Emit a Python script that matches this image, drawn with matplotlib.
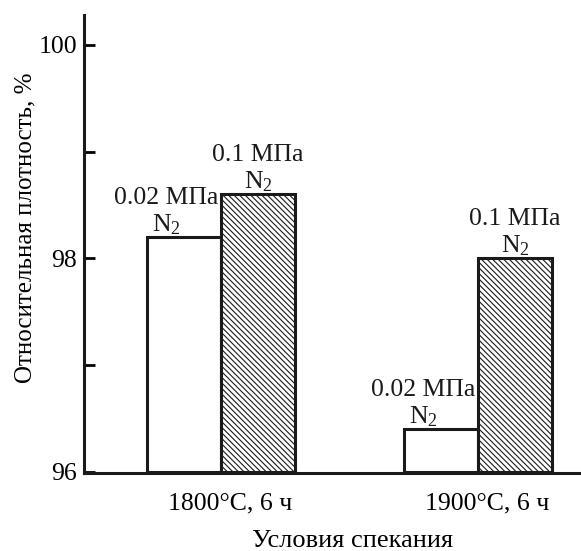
import matplotlib
matplotlib.use("Agg")
import matplotlib.pyplot as plt
from matplotlib.ticker import MultipleLocator

plt.rcParams["font.family"] = ["Liberation Serif", "DejaVu Serif"]
plt.rcParams["mathtext.fontset"] = "custom"
plt.rcParams["mathtext.rm"] = "Liberation Serif"
plt.rcParams["mathtext.default"] = "regular"
plt.rcParams["hatch.linewidth"] = 0.8

# data
conditions = ["1800°C, 6 ч", "1900°C, 6 ч"]
density_002 = [98.2, 96.4]   # 0.02 МПа N2
density_01 = [98.6, 98.0]    # 0.1 МПа N2
label_002 = "0.02 МПа\nN$_2$"
label_01 = "0.1 МПа\nN$_2$"

width = 0.288
pos = [0, 1]

fig = plt.figure(figsize=(5.81, 5.51), dpi=100)
ax = fig.add_axes([0.1446, 0.1416, 0.8554, 0.8312])

left = [p - width / 2 for p in pos]
right = [p + width / 2 for p in pos]
ax.bar(left, [v - 96 for v in density_002], width, bottom=96,
       facecolor="white", edgecolor="#1a1a1a", linewidth=2.2, zorder=2)
ax.bar(right, [v - 96 for v in density_01], width, bottom=96,
       facecolor="white", edgecolor="#1a1a1a", linewidth=2.2,
       hatch="\\\\\\\\\\\\", zorder=2)

for x, v in zip(left, density_002):
    ax.annotate(label_002, (x, v), xytext=(-13, 0), textcoords="offset points",
                ha="center", va="bottom", fontsize=18.5, linespacing=1.2, color="#1a1a1a")
for x, v in zip(right, density_01):
    ax.annotate(label_01, (x, v), xytext=(0, 0), textcoords="offset points",
                ha="center", va="bottom", fontsize=18.5, linespacing=1.2, color="#1a1a1a")

ax.set_xlim(-0.533, 1.40)
ax.set_ylim(95.99, 100.28)
ax.yaxis.set_major_locator(MultipleLocator(2))
ax.yaxis.set_minor_locator(MultipleLocator(1))
ax.set_xticks([p + 0.035 for p in pos])
ax.set_xticklabels(conditions)
ax.tick_params(axis="x", length=0, labelsize=18.5, pad=14)
ax.tick_params(axis="y", which="both", direction="in", length=8, width=2,
               labelsize=18.5, pad=5)

for s in ["top", "right"]:
    ax.spines[s].set_visible(False)
for s in ["left", "bottom"]:
    ax.spines[s].set_linewidth(2.2)
    ax.spines[s].set_color("#1a1a1a")

ax.set_ylabel("Относительная плотность, %", fontsize=18)
ax.yaxis.set_label_coords(-0.095, 0.535)
ax.set_xlabel("Условия спекания", fontsize=19)
ax.xaxis.set_label_coords(0.54, -0.125)

fig.savefig("out.png", dpi=100)
